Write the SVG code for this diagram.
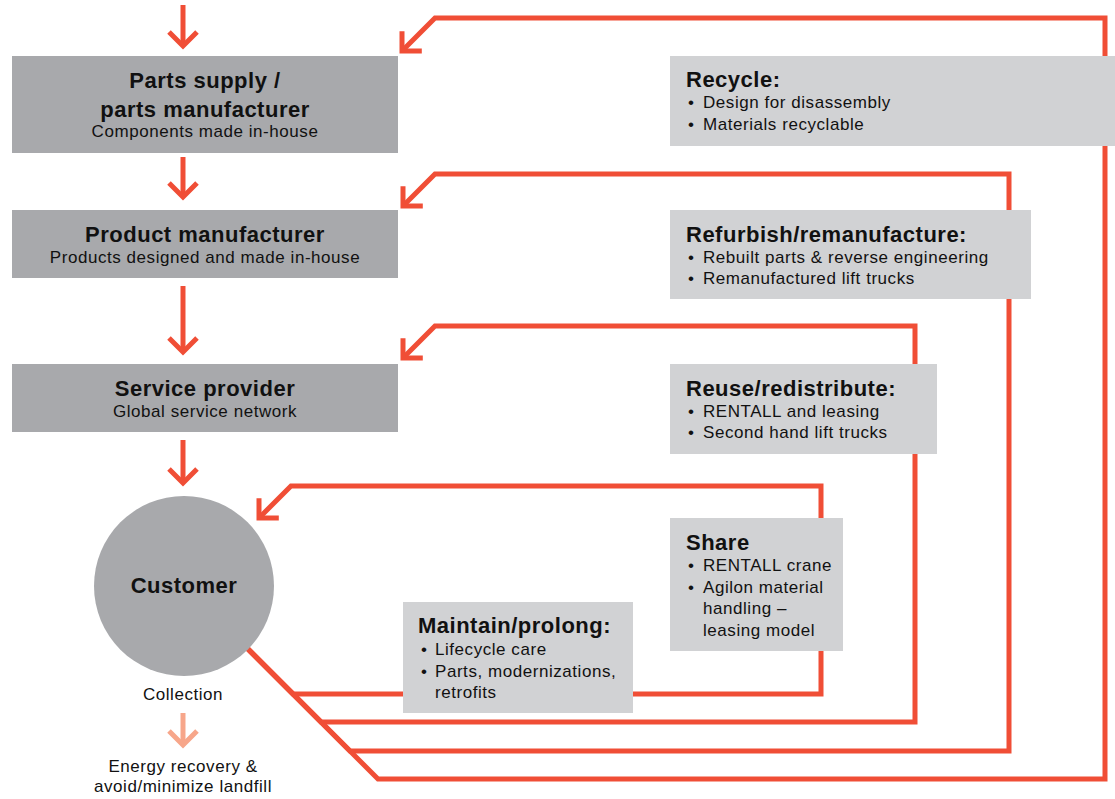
<svg xmlns="http://www.w3.org/2000/svg" width="1115" height="799" viewBox="0 0 1115 799">
<style>
.dark{fill:#a8a9ac}
.light{fill:#d1d2d4}
.t{font-family:"Liberation Sans",Arial,sans-serif;font-weight:bold;font-size:22px;letter-spacing:0.5px;fill:#111}
.s{font-family:"Liberation Sans",Arial,sans-serif;font-size:17px;letter-spacing:0.55px;fill:#111}
.c{text-anchor:middle}
.ln{fill:none;stroke:#f04e36;stroke-width:5;stroke-linejoin:miter}
</style>
<defs>
<marker id="ah" markerUnits="userSpaceOnUse" markerWidth="40" markerHeight="40" refX="0" refY="0" orient="auto" overflow="visible">
<path d="M-14,-14 L0,0 L-14,14" fill="none" stroke="#f04e36" stroke-width="5"/>
</marker>
<marker id="ahl" markerUnits="userSpaceOnUse" markerWidth="40" markerHeight="40" refX="0" refY="0" orient="auto" overflow="visible">
<path d="M-14,-14 L0,0 L-14,14" fill="none" stroke="#f7a68a" stroke-width="5"/>
</marker>
</defs>
<g id="connectors">
<path class="ln" d="M183,5 V46" marker-end="url(#ah)"/>
<path class="ln" d="M183,157 V197" marker-end="url(#ah)"/>
<path class="ln" d="M183,286 V352" marker-end="url(#ah)"/>
<path class="ln" d="M183,440 V483" marker-end="url(#ah)"/>
<path class="ln" d="M247,648 L378,779 H1105 V18 H435 L402,51" marker-end="url(#ah)"/>
<path class="ln" d="M247,648 L350,751 H1009 V174 H435 L403,206" marker-end="url(#ah)"/>
<path class="ln" d="M247,648 L321,722 H915 V326 H435 L403,358" marker-end="url(#ah)"/>
<path class="ln" d="M247,648 L293,694 H821 V486 H291 L259,518" marker-end="url(#ah)"/>
<path d="M183,713 V745" fill="none" stroke="#f7a68a" stroke-width="5" marker-end="url(#ahl)"/>
</g>
<g id="parts-supply">
<rect class="dark" x="12" y="56" width="386" height="97"/>
<text class="t c" x="205" y="88">Parts supply /</text>
<text class="t c" x="205" y="117">parts manufacturer</text>
<text class="s c" x="205" y="137">Components made in-house</text>
</g>
<g id="product-manufacturer">
<rect class="dark" x="12" y="210" width="386" height="68"/>
<text class="t c" x="205" y="242">Product manufacturer</text>
<text class="s c" x="205" y="263">Products designed and made in-house</text>
</g>
<g id="service-provider">
<rect class="dark" x="12" y="364" width="386" height="68"/>
<text class="t c" x="205" y="396">Service provider</text>
<text class="s c" x="205" y="417">Global service network</text>
</g>
<g id="customer">
<circle class="dark" cx="184" cy="586" r="90"/>
<text class="t c" x="184" y="593">Customer</text>
</g>
<g id="collection">
<text class="s c" x="183" y="700">Collection</text>
</g>
<g id="energy-recovery">
<text class="s c" x="183" y="772">Energy recovery &amp;</text>
<text class="s c" x="183" y="792">avoid/minimize landfill</text>
</g>
<g id="recycle">
<rect class="light" x="670" y="56" width="445" height="90"/>
<text class="t" x="686" y="87">Recycle:</text>
<text class="s" y="108"><tspan x="688">•</tspan><tspan x="703">Design for disassembly</tspan></text>
<text class="s" y="130"><tspan x="688">•</tspan><tspan x="703">Materials recyclable</tspan></text>
</g>
<g id="refurbish">
<rect class="light" x="670" y="210" width="361" height="89"/>
<text class="t" x="686" y="242">Refurbish/remanufacture:</text>
<text class="s" y="263"><tspan x="688">•</tspan><tspan x="703">Rebuilt parts &amp; reverse engineering</tspan></text>
<text class="s" y="284"><tspan x="688">•</tspan><tspan x="703">Remanufactured lift trucks</tspan></text>
</g>
<g id="reuse">
<rect class="light" x="670" y="364" width="267" height="90"/>
<text class="t" x="686" y="396">Reuse/redistribute:</text>
<text class="s" y="417"><tspan x="688">•</tspan><tspan x="703">RENTALL and leasing</tspan></text>
<text class="s" y="438"><tspan x="688">•</tspan><tspan x="703">Second hand lift trucks</tspan></text>
</g>
<g id="share">
<rect class="light" x="670" y="518" width="173" height="133"/>
<text class="t" x="686" y="550">Share</text>
<text class="s" y="571"><tspan x="688">•</tspan><tspan x="703">RENTALL crane</tspan></text>
<text class="s" y="593"><tspan x="688">•</tspan><tspan x="703">Agilon material</tspan></text>
<text class="s" x="703" y="614">handling –</text>
<text class="s" x="703" y="636">leasing model</text>
</g>
<g id="maintain">
<rect class="light" x="403" y="602" width="230" height="111"/>
<text class="t" x="418" y="633">Maintain/prolong:</text>
<text class="s" y="655"><tspan x="421">•</tspan><tspan x="435">Lifecycle care</tspan></text>
<text class="s" y="677"><tspan x="421">•</tspan><tspan x="435">Parts, modernizations,</tspan></text>
<text class="s" x="435" y="698">retrofits</text>
</g>
</svg>
